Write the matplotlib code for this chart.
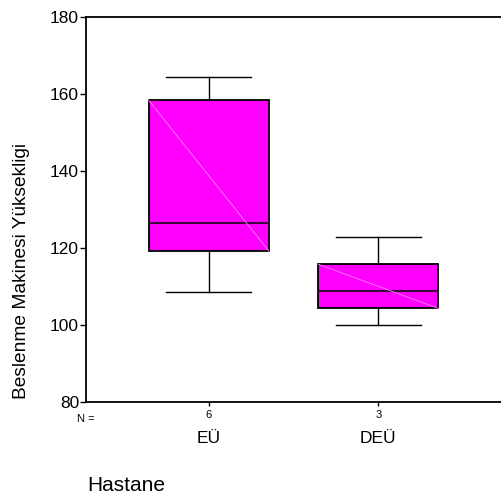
import matplotlib.pyplot as plt

plt.rcParams['font.family'] = ['Liberation Sans', 'DejaVu Sans']

groups = ['EÜ', 'DEÜ']
counts = [6, 3]
whislo = [108.5, 99.9]
q1 = [119.2, 104.3]
med = [126.6, 108.9]
q3 = [158.4, 115.8]
whishi = [164.5, 122.9]
yticks = [80, 100, 120, 140, 160, 180]

pos = [1, 2]
stats = [dict(med=med[i], q1=q1[i], q3=q3[i], whislo=whislo[i], whishi=whishi[i], fliers=[])
         for i in range(len(groups))]

fig = plt.figure(figsize=(5.01, 4.97), dpi=100)
ax = fig.add_axes([0.1717, 0.1911, 0.8283, 0.7747])

bw = 0.71
ax.bxp(stats, positions=pos, widths=bw, patch_artist=True, showfliers=False,
       boxprops=dict(facecolor='#ff00ff', edgecolor='black', linewidth=1.3),
       medianprops=dict(color='#3a0a3a', linewidth=1.5),
       whiskerprops=dict(color='black', linewidth=1),
       capprops=dict(color='black', linewidth=1),
       capwidths=0.5)

# faint diagonal inside each box (SPSS style)
for i in range(len(groups)):
    ax.plot([pos[i] - bw / 2, pos[i] + bw / 2], [q3[i], q1[i]],
            color='#ff88ff', linewidth=0.6, zorder=3)

ax.set_ylim(80, 180)
ax.set_xlim(0.276, 2.724)
ax.set_yticks(yticks)
ax.tick_params(axis='y', labelsize=12.5, length=4, width=1, pad=1)
ax.set_xticks(pos)
ax.set_xticklabels([str(c) for c in counts], fontsize=8)
ax.tick_params(axis='x', length=3, width=1, pad=3)
for lbl, p in zip(groups, pos):
    ax.text(p, -0.095, lbl, transform=ax.get_xaxis_transform(), ha='center', va='center', fontsize=12.5)
ax.text(0.02, -0.045, 'N =', transform=ax.transAxes, ha='right', va='center', fontsize=8)

ax.spines['right'].set_visible(False)
for s in ['left', 'bottom', 'top']:
    ax.spines[s].set_linewidth(1.3)

fig.text(0.042, 0.4547, 'Beslenme Makinesi Yüksekligi', rotation=90,
         ha='center', va='center', fontsize=13.8)
fig.text(0.174, 0.024, 'Hastane', ha='left', va='center', fontsize=15)

fig.savefig('out.png', dpi=100)
